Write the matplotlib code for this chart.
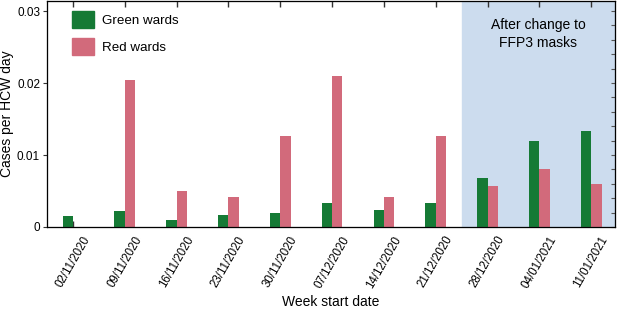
import matplotlib.pyplot as plt
import numpy as np
from matplotlib.patches import Patch

plt.rcParams['font.family'] = ['Liberation Sans', 'DejaVu Sans']

weeks = ['02/11/2020', '09/11/2020', '16/11/2020', '23/11/2020', '30/11/2020',
         '07/12/2020', '14/12/2020', '21/12/2020', '28/12/2020', '04/01/2021',
         '11/01/2021']
green = [0.0015, 0.0022, 0.0010, 0.0016, 0.0019, 0.0033, 0.0023, 0.0033,
         0.0068, 0.0120, 0.0133]
red = [0.00005, 0.0204, 0.0050, 0.0042, 0.0126, 0.0210, 0.0042, 0.0126,
       0.0057, 0.0080, 0.0060]
ffp3_start = 7.5

green_c = '#157a35'
red_c = '#d26a7b'

fig = plt.figure(figsize=(6.17, 3.09), dpi=100)
ax = fig.add_axes([0.0762, 0.2654, 0.9206, 0.7314])

x = np.arange(len(weeks))
w = 0.2
xmin, xmax = -0.5, 10.46
ax.axvspan(ffp3_start, xmax, color='#ccdcee', zorder=0)
ax.bar(x - w / 2, green, w, color=green_c, zorder=2)
ax.bar(x + w / 2, red, w, color=red_c, zorder=2)

ax.set_xlim(xmin, xmax)
ax.set_ylim(0, 0.0314)
ax.set_xticks(x)
ax.set_xticklabels(weeks, rotation=60, ha='center', va='top', fontsize=8.3)
ax.tick_params(axis='x', direction='in', top=True, length=4, width=1, color='#333333', pad=5)
ax.set_yticks([0, 0.01, 0.02, 0.03])
ax.set_yticklabels(['0', '0.01', '0.02', '0.03'], fontsize=8.5)
ax.tick_params(axis='y', direction='out', length=3, color='#333333', pad=2)

ax2 = ax.twinx()
ax2.set_ylim(ax.get_ylim())
ax2.set_yticks(np.arange(0, 0.031, 0.002))
ax2.tick_params(axis='y', direction='in', length=3, labelright=False, color='#555555')

for s in ax.spines.values():
    s.set_color('#444444')
    s.set_linewidth(0.9)

ax.set_ylabel('Cases per HCW day', fontsize=10)
ax.yaxis.set_label_coords(-0.058, 0.5)
ax.set_xlabel('Week start date', fontsize=10)
ax.xaxis.set_label_coords(0.5, -0.30)

ax.text((ffp3_start + xmax) / 2, 0.0268, 'After change to\nFFP3 masks', ha='center',
        va='center', fontsize=10, linespacing=1.3)

handles = [Patch(color=green_c, label='Green wards'), Patch(color=red_c, label='Red wards')]
ax.legend(handles=handles, loc='upper left', bbox_to_anchor=(0.023, 1.01), frameon=False,
          fontsize=9.6, handlelength=1.65, handleheight=1.6, labelspacing=0.75,
          handletextpad=0.6)

fig.savefig('out.png', dpi=100)
